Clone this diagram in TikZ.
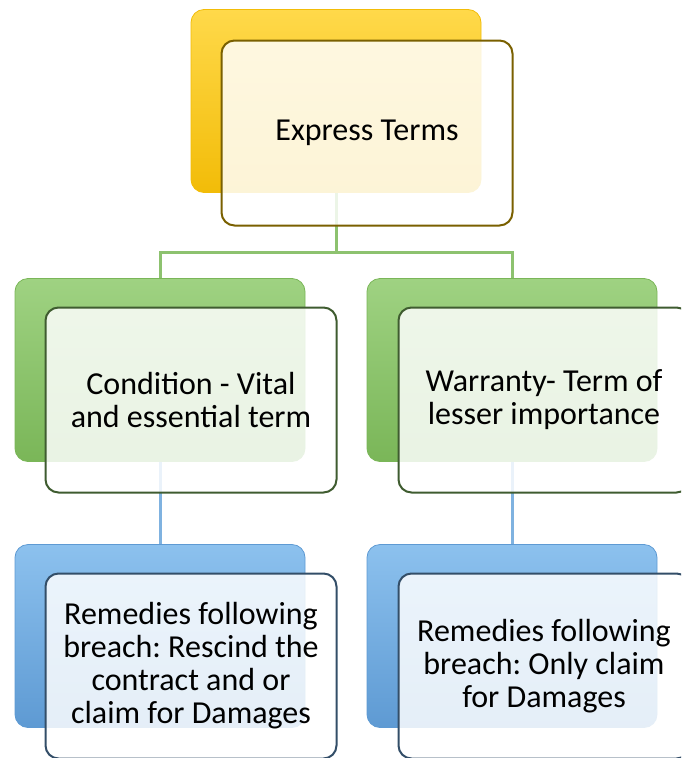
\documentclass[tikz,border=0pt]{standalone}
\usepackage{fontspec}
\setmainfont{Carlito}
\frenchspacing
\definecolor{goldtop}{HTML}{FFD94A}
\definecolor{goldbot}{HTML}{F2BC08}
\definecolor{goldline}{HTML}{7A6000}
\definecolor{greentop}{HTML}{9FD282}
\definecolor{greenbot}{HTML}{7AB658}
\definecolor{greenline}{HTML}{3F5C30}
\definecolor{bluetop}{HTML}{8CC1EE}
\definecolor{bluebot}{HTML}{5E9AD3}
\definecolor{blueline}{HTML}{334E68}
\definecolor{linkgreen}{HTML}{8DC26F}
\definecolor{linkblue}{HTML}{7FB2E0}
\begin{document}
\begin{tikzpicture}[x=1pt,y=-1pt,
    backbox/.style 2 args={rounded corners=13pt, minimum width=290pt, minimum height=183pt,
        inner sep=0pt, draw=#2, line width=0.8pt, top color=#1, bottom color=#2},
    frontbox/.style={rounded corners=13pt, minimum width=291pt, minimum height=185pt,
        inner sep=0pt, draw=#1, line width=2pt, fill=white, fill opacity=0.84,
        text opacity=1, align=center, font=\fontsize{32}{33}\selectfont},
    link/.style={line width=3pt, #1}]
    \clip (0,0) rectangle (681,758);
    \useasboundingbox (0,0) rectangle (681,758);
    \node[backbox={goldtop}{goldbot}] (expback) at (336,101) {};
    \node[backbox={greentop}{greenbot}] (condback) at (160,370) {};
    \node[backbox={greentop}{greenbot}] (warrback) at (512,370) {};
    \node[backbox={bluetop}{bluebot}] (condremback) at (160,636) {};
    \node[backbox={bluetop}{bluebot}] (warrremback) at (512,636) {};
    \coordinate (split) at (336,252);
    \draw[link=linkgreen] (expback.south) -- (split) -| (condback.north);
    \draw[link=linkgreen] (split) -| (warrback.north);
    \draw[link=linkblue] (condback.south) -- (condremback.north);
    \draw[link=linkblue] (warrback.south) -- (warrremback.north);
    \node[frontbox=goldline] (expterms) at (367,133) {Express Terms};
    \node[frontbox=greenline] (condition) at (191,400) {Condition - Vital\\and essential term};
    \node[frontbox=greenline] (warranty) at (544,400) {Warranty- Term of\\lesser importance};
    \node[frontbox=blueline] (condremedy) at (191,666) {Remedies following\\breach: Rescind the\\contract and or\\claim for Damages};
    \node[frontbox=blueline] (warrremedy) at (544,666) {Remedies following\\breach: Only claim\\for Damages};
\end{tikzpicture}
\end{document}
